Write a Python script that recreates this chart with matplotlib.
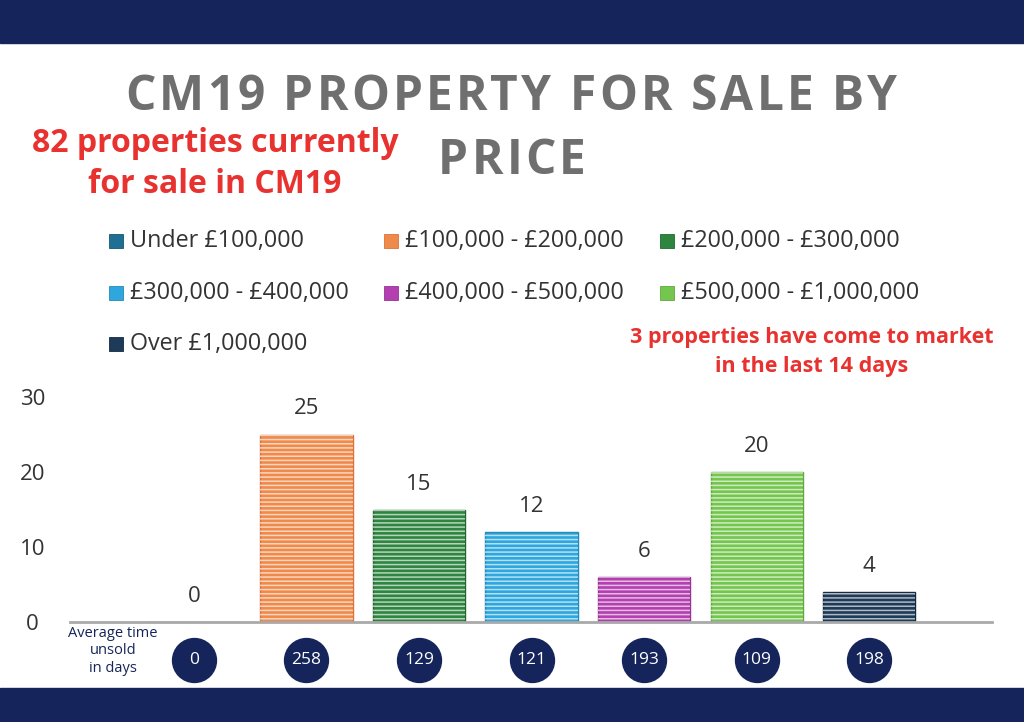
import matplotlib
matplotlib.use("Agg")
import matplotlib.pyplot as plt
from matplotlib.patches import Rectangle

# ---------- data ----------
bands = ["Under £100,000", "£100,000 - £200,000", "£200,000 - £300,000",
         "£300,000 - £400,000", "£400,000 - £500,000", "£500,000 - £1,000,000",
         "Over £1,000,000"]
counts = [0, 25, 15, 12, 6, 20, 4]
days_unsold = [0, 258, 129, 121, 193, 109, 198]
colors = ["#1f6f94", "#f08a4b", "#2e8540", "#2ea6de", "#b43fb0", "#74c64e", "#1d3a58"]
edge_colors = ["#175670", "#d9733a", "#23692f", "#2389b8", "#963393", "#5fa93e", "#142a40"]

title_lines = ["CM19 PROPERTY FOR SALE BY", "PRICE"]
note_left = "82 properties currently\nfor sale in CM19"
note_right = "3 properties have come to market\nin the last 14 days"

NAVY = "#15245a"
RED = "#e8322f"
GREY_TITLE = "#6f6f70"
TXT = "#333333"

W, H = 1024, 722
fig = plt.figure(figsize=(W / 100, H / 100), dpi=100)
fig.patch.set_facecolor("white")
plt.rcParams["hatch.linewidth"] = 1.1


def px(x, y):
    # pixel (from top-left) -> figure fraction
    return x / W, 1 - y / H


# navy bands top and bottom
fig.patches.append(Rectangle((0, 1 - 43 / H), 1, 43 / H, transform=fig.transFigure,
                             color=NAVY, zorder=0))
fig.patches.append(Rectangle((0, 0), 1, 34 / H, transform=fig.transFigure,
                             color=NAVY, zorder=0))


# ---------- letter-spaced title ----------
def spaced_line(s, cx, cy, width=None, gap=None, **kw):
    r = fig.canvas.get_renderer()
    ws = []
    for ch in s:
        if ch == " ":
            ws.append(None)
            continue
        t = fig.text(0, 0, ch, **kw)
        ws.append(t.get_window_extent(r).width)
        t.remove()
    sp_w = kw["fontsize"] * 100 / 72 * 0.25
    ws = [sp_w if w is None else w for w in ws]
    if gap is None:
        gap = (width - sum(ws)) / (len(s) - 1)
    total = sum(ws) + gap * (len(s) - 1)
    x = cx - total / 2
    for ch, w in zip(s, ws):
        if ch != " ":
            fig.text(*px(x, cy), ch, ha="left", va="center", **kw)
        x += w + gap
    return gap


tkw = dict(fontsize=34.5, fontweight="bold", color=GREY_TITLE, family="Open Sans")
g = spaced_line(title_lines[0], 511, 98, width=772, **tkw)
spaced_line(title_lines[1], 512, 162, gap=g, **tkw)

fig.text(*px(215, 164), note_left, ha="center", va="center", color=RED,
         fontsize=23, fontweight="bold", family="Open Sans", linespacing=1.3)
fig.text(*px(812, 352), note_right, ha="center", va="center", color=RED,
         fontsize=15.5, fontweight="bold", family="Open Sans", linespacing=1.45)

# ---------- legend (3 columns) ----------
col_x = [109, 384, 660]
row_y = [241, 293, 344]
sq = 14
for i, (lab, c) in enumerate(zip(bands, colors)):
    x0 = col_x[i % 3]
    y0 = row_y[i // 3]
    fx, fy = px(x0, y0 + sq / 2)
    fig.patches.append(Rectangle((fx, fy), sq / W, sq / H, transform=fig.transFigure,
                                 facecolor=c, edgecolor=edge_colors[i], lw=0.6))
    fig.text(*px(x0 + sq + 7, y0), lab, ha="left", va="center", color=TXT,
             fontsize=16.8, family="Open Sans")

# ---------- bar chart ----------
ax = fig.add_axes([70 / W, 100 / H, 922 / W, 225 / H])
x = list(range(len(counts)))
ax.bar(x, counts, width=0.82, color=colors, edgecolor=edge_colors, linewidth=1, zorder=2)
ax.bar(x, counts, width=0.82, facecolor="none", edgecolor=(1, 1, 1, 0.65),
       hatch="----", linewidth=0, zorder=3)

for xi, v in zip(x, counts):
    ax.text(xi, v + 3.4, str(v), ha="center", va="center", fontsize=16,
            color=TXT, family="Open Sans")

ax.set_xlim(-1.1, 7.09)
ax.set_ylim(0, 30)
ax.set_yticks([0, 10, 20, 30])
ax.set_xticks([])
ax.tick_params(axis="y", length=0, pad=27, labelsize=16, labelcolor=TXT)
for lab in ax.get_yticklabels():
    lab.set_family("Open Sans")
    lab.set_horizontalalignment("center")
for s in ["left", "right", "top"]:
    ax.spines[s].set_visible(False)
ax.spines["bottom"].set_color("#a9a9a9")
ax.spines["bottom"].set_linewidth(2)

# average days unsold circles under each bar
yc = -5.1
ax.scatter(x, [yc] * len(x), s=1000, color=NAVY, clip_on=False, zorder=4)
for xi, d in zip(x, days_unsold):
    ax.text(xi, yc, str(d), ha="center", va="center", color="white",
            fontsize=12.5, family="Open Sans", zorder=5, clip_on=False)

fig.text(*px(113, 651), "Average time\nunsold\nin days", ha="center", va="center",
         color=NAVY, fontsize=10.5, family="Open Sans", linespacing=1.2)

fig.savefig("out.png", dpi=100)
